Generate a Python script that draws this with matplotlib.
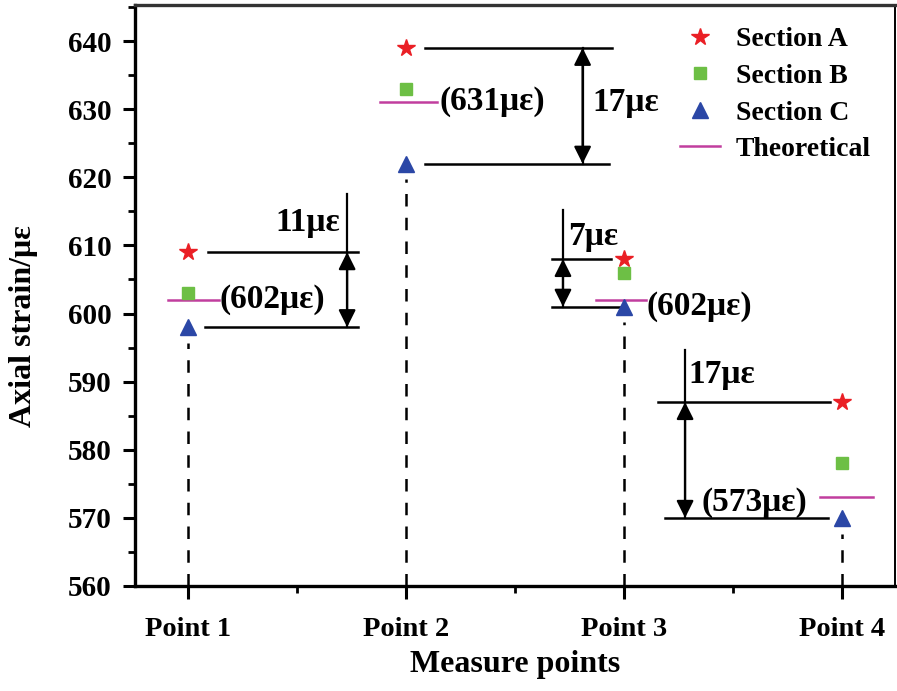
import matplotlib.pyplot as plt
from matplotlib.ticker import MultipleLocator, FixedLocator

# data
points = ['Point 1', 'Point 2', 'Point 3', 'Point 4']
sec_a = [609, 639, 608, 587]
sec_b = [603, 633, 606, 578]
sec_c = [598, 622, 601, 570]
theory = [602, 631, 602, 573]
diff_labels = ['11\u03bc\u03b5', '17\u03bc\u03b5', '7\u03bc\u03b5', '17\u03bc\u03b5']
theory_labels = ['(602\u03bc\u03b5)', '(631\u03bc\u03b5)', '(602\u03bc\u03b5)', '(573\u03bc\u03b5)']

plt.rcParams['font.family'] = ['Liberation Serif', 'DejaVu Serif']
plt.rcParams['font.weight'] = 'bold'

fig = plt.figure(figsize=(8.97, 6.91), dpi=100)
ax = fig.add_axes([0.1505, 0.152, 0.8473, 0.8408])

x = [1, 2, 3, 4]

# dashed guide lines from bottom to just below Section C
for xi, c in zip(x, sec_c):
    ax.plot([xi, xi], [560, c - 2.3], ls=(0, (5, 4.5)), color='black', lw=1.8, zorder=1)

ax.plot(x, sec_a, ls='none', marker='*', ms=13, color='#ea1f25', label='Section A', zorder=4)
ax.plot(x, sec_b, ls='none', marker='s', ms=8.5, color='#6dbf45', label='Section B', zorder=4)
ax.plot(x, sec_c, ls='none', marker='^', ms=11, color='#2b47a6', label='Section C', zorder=4)

# theoretical segment extents around each point (left, right)
seg_ext = [(0.09, 0.14), (0.12, 0.14), (0.13, 0.10), (0.10, 0.14)]
for i, (xi, t) in enumerate(zip(x, theory)):
    ax.plot([xi - seg_ext[i][0], xi + seg_ext[i][1]], [t, t], color='#c13e9e', lw=1.8,
            zorder=3, label='Theoretical' if i == 0 else None)

# bracket layout: (top line x0, x1), (bottom line x0, x1), arrow x, vertical top, text x, text y, ha
brackets = [
    ((1.09, 1.78), (1.08, 1.78), 1.73, 617.6, 1.70, 613.4, 'right'),
    ((2.087, 2.945), (2.087, 2.93), 2.81, 639, 2.855, 631.0, 'left'),
    ((2.67, 2.94), (2.67, 2.98), 2.72, 615.2, 2.745, 611.3, 'left'),
    ((3.156, 3.945), (3.188, 3.936), 3.28, 594.6, 3.295, 591.0, 'left'),
]
theory_text_x = [1.145, 2.155, 3.105, 3.355]
theory_text_y = [602, 631.1, 601, 572.3]

for i, (tl, bl, ax_x, vtop, tx, ty, ha) in enumerate(brackets):
    ax.plot(tl, [sec_a[i], sec_a[i]], color='black', lw=1.8, zorder=2)
    ax.plot(bl, [sec_c[i], sec_c[i]], color='black', lw=1.8, zorder=2)
    ax.plot([ax_x, ax_x], [sec_c[i], vtop], color='black', lw=1.6, zorder=2)
    ax.annotate('', xy=(ax_x, sec_a[i]), xytext=(ax_x, sec_c[i]),
                arrowprops=dict(arrowstyle='<|-|>', color='black', lw=1.6,
                                mutation_scale=26, shrinkA=0, shrinkB=0))
    ax.text(tx, ty, diff_labels[i], ha=ha, va='center', fontsize=24, fontweight='bold')
    ax.text(theory_text_x[i], theory_text_y[i], theory_labels[i], ha='left', va='center',
            fontsize=24, fontweight='bold')

ax.set_xlim(0.757, 4.243)
ax.set_ylim(560, 645.3)
ax.xaxis.set_major_locator(FixedLocator(x))
ax.xaxis.set_minor_locator(FixedLocator([1.5, 2.5, 3.5]))
ax.set_xticklabels(points, fontsize=20.5, fontweight='bold')
ax.yaxis.set_major_locator(MultipleLocator(10))
ax.yaxis.set_minor_locator(MultipleLocator(5))
for lab in ax.get_yticklabels():
    lab.set_fontsize(21)
    lab.set_fontweight('bold')
ax.tick_params(which='major', direction='out', length=9, width=2.2)
ax.tick_params(which='minor', direction='out', length=5, width=2)
ax.tick_params(axis='y', which='major', pad=8)
ax.tick_params(axis='x', which='major', pad=13)
ax.tick_params(top=False, right=False)
for s in ax.spines.values():
    s.set_linewidth(2.4)
ax.spines['top'].set_color('#333333')
ax.spines['right'].set_linewidth(1.4)

ax.set_xlabel('Measure points', fontsize=23, fontweight='bold', labelpad=6)
ax.set_ylabel('Axial strain/\u03bc\u03b5', fontsize=23, fontweight='bold')
ax.yaxis.set_label_coords(-0.128, 0.4475)

ax.legend(loc='upper left', frameon=False, prop={'weight': 'bold', 'size': 20},
          handlelength=1.45, handletextpad=0.55, labelspacing=0.4,
          borderpad=0, borderaxespad=0,
          bbox_to_anchor=(680 / 897, 1 - 27 / 691), bbox_transform=fig.transFigure)

fig.savefig('out.png', dpi=100)
